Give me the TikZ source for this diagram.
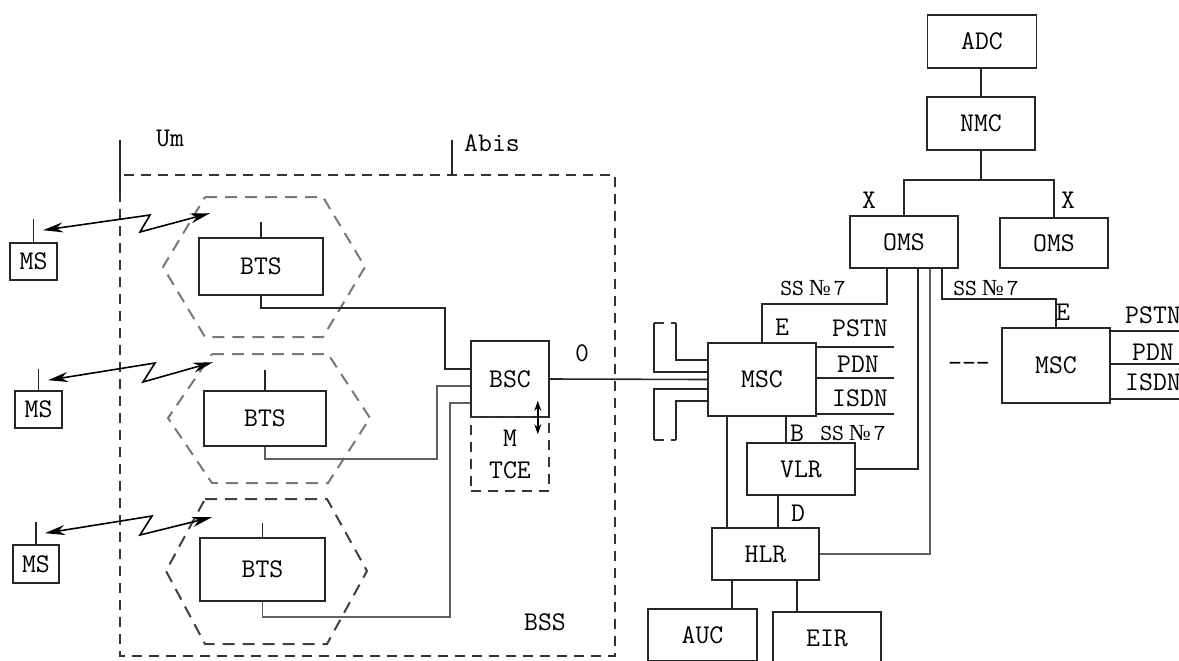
\documentclass[tikz,border=0pt]{standalone}
\usepackage{fontspec}
\newfontfamily\numfont{Liberation Serif}
\usetikzlibrary{arrows.meta,calc,positioning}
\definecolor{linegray}{RGB}{95,95,95}
\definecolor{cellgray}{RGB}{120,120,120}
\newcommand{\ssseven}{{\fontsize{11.5}{12}\selectfont SS\hspace{2.5pt}{\numfont №}\hspace{1.5pt}7}}

\begin{document}
\begin{tikzpicture}[x=0.5pt,y=-0.5pt,font=\ttfamily\fontsize{13.5}{15}\selectfont]

  \tikzstyle{every node}=[inner sep=0pt]
  \tikzstyle{box}=[draw=black!85, line width=0.8pt]
  \tikzstyle{link}=[draw=black!85, line width=0.8pt]
  \tikzstyle{glink}=[draw=linegray, line width=0.9pt]
  \tikzstyle{cell}=[draw=cellgray, line width=1pt, dash pattern=on 6pt off 4pt]
  \tikzstyle{frame}=[draw=black!80, line width=0.8pt, dash pattern=on 5pt off 3.5pt]
  \tikzstyle{radio}=[{Stealth[length=10pt,width=5pt]}-{Stealth[length=10pt,width=5pt]}, line width=0.8pt]

  \useasboundingbox (0,0) rectangle (1179,660);
  \clip (0,0) rectangle (1179,660);

  % BSS frame, interfaces
  \draw[frame] (120,175) rectangle (615,656);
  \draw[link] (120,140) -- (120,192);
  \draw[link] (452,140) -- (452,175);
  \node (um) at (170,138) {Um};
  \node (abis) at (492,143) {Abis};
  \node (bss) at (545,622) {BSS};

  % cells
  \draw[cell] (205,197) -- (323,197) -- (365,267) -- (323,337) -- (205,337) -- (163,267) -- cycle;
  \draw[cell] (212,354) -- (328,354) -- (370,418) -- (328,483) -- (212,483) -- (168,418) -- cycle;
  \draw[cell, draw=black!75] (205,499) -- (327,499) -- (367,571) -- (327,644) -- (205,644) -- (166,571) -- cycle;

  \node[box, minimum width=62pt, minimum height=28.5pt] (bts1) at (261,266.5) {BTS};
  \node[box, minimum width=61pt, minimum height=27.5pt] (bts2) at (265,418.5) {BTS};
  \node[box, minimum width=62.5pt, minimum height=31.5pt] (bts3) at (262.5,569.5) {BTS};
  \node[box, minimum width=23.5pt, minimum height=18.5pt] (ms1) at (33.5,261.5) {MS};
  \node[box, minimum width=23.5pt, minimum height=18.5pt] (ms2) at (38.5,409.5) {MS};
  \node[box, minimum width=23pt, minimum height=19pt] (ms3) at (36,564) {MS};

  \draw[link] (bts1.north) -- ++(0,-15);
  \draw[link] (bts2.north) -- ++(0,-20);
  \draw[link] (bts3.north) -- ++(0,-14);
  \draw[link] (ms1.north) -- ++(0,-23);
  \draw[link] (ms2.north) -- ++(0,-21);
  \draw[link] (ms3.north) -- ++(0,-22);

  \draw[radio] ([shift={(9.5,-12)}]ms1.north) -- (150,215) -- (140,232) -- ([shift={(-51,-24)}]bts1.north);
  \draw[radio] ([shift={(9.5,-10)}]ms2.north) -- (155,363) -- (143,382) -- ([shift={(-52,-28)}]bts2.north);
  \draw[radio] ([shift={(9,-11)}]ms3.north) -- (152,516) -- (140,535) -- ([shift={(-50.5,-20)}]bts3.north);

  % BSC
  \node[box, minimum width=39pt, minimum height=38pt] (bsc) at (510,379) {BSC};
  \node[frame, minimum width=39pt, minimum height=37pt, align=center] (mtce) at (510,454) {M\\[1pt]TCE};
  \draw[{Stealth[length=5pt,width=3.5pt]}-{Stealth[length=5pt,width=3.5pt]}, line width=0.8pt]
    ($(bsc.south east)+(-12,-17)$) -- ($(mtce.north east)+(-12,18)$);

  \draw[link] (bts1.south) |- (445,308) -- (445,369) -- (bsc.west |- 0,369);
  \draw[glink] (bts2.south) |- (437,459) -- (437,386) -- (bsc.west |- 0,386);
  \draw[glink] (bts3.south) |- (450,617) -- (450,403) -- (bsc.west |- 0,403);

  % core network
  \node[box, minimum width=54.5pt, minimum height=26.5pt] (adc) at (982,41.5) {ADC};
  \node[box, minimum width=54pt, minimum height=26.5pt] (nmc) at (981,123.5) {NMC};
  \node[box, minimum width=54pt, minimum height=26pt] (oms1) at (904,242) {OMS};
  \node[box, minimum width=54pt, minimum height=25pt] (oms2) at (1054,243) {OMS};
  \node[box, minimum width=54pt, minimum height=36.5pt] (msc1) at (762,379.5) {MSC};
  \node[box, minimum width=54pt, minimum height=37.5pt] (msc2) at (1056,365.5) {MSC};
  \node[box, minimum width=54pt, minimum height=26pt] (vlr) at (801,469) {VLR};
  \node[box, minimum width=53.5pt, minimum height=26pt] (hlr) at (765.5,554) {HLR};
  \node[box, minimum width=54.5pt, minimum height=26pt] (auc) at (702.5,635) {AUC};
  \node[box, minimum width=54pt, minimum height=26pt] (eir) at (827,638) {EIR};

  \draw[link] (bsc.east) -- (msc1.west);
  \node (ifo) at (582,353) {0};

  % trunks into MSC
  \draw[link] (msc1.west |- 0,360) -- (676,360) -- (676,323);
  \draw[link] (msc1.west |- 0,372) -- (654,372) -- (654,323);
  \draw[frame] (654,323) -- (676,323);
  \draw[link] (msc1.west |- 0,389) -- (654,389) -- (654,440);
  \draw[link] (msc1.west |- 0,401) -- (676,401) -- (676,440);
  \draw[frame] (654,440) -- (676,440);

  \draw[link] (msc1.east |- 0,347) -- (894,347);
  \draw[link] (msc1.east |- 0,378) -- (894,378);
  \draw[link] (msc1.east |- 0,414) -- (894,414);
  \node (pstn1) at (860,328) {PSTN};
  \node (pdn1) at (858,364) {PDN};
  \node (isdn1) at (860,398) {ISDN};

  \draw[link] (msc2.east |- 0,331) -- (1179,331);
  \draw[link] (msc2.east |- 0,364) -- (1179,364);
  \draw[link] (msc2.east |- 0,399) -- (1179,399);
  \node (pstn2) at (1153,315) {PSTN};
  \node (pdn2) at (1153,352) {PDN};
  \node (isdn2) at (1153,382) {ISDN};
  \node (more) at (969,367) {-{}-{}-};

  % management
  \draw[link] (nmc.north) -- (nmc.north |- adc.south);
  \draw[link] (nmc.south) -- (nmc.south |- 0,180);
  \draw[link] (oms1.north) |- (oms2.north |- 0,180) -- (oms2.north);
  \node (x1) at (869,200) {X};
  \node (x2) at (1068,200) {X};

  % signalling
  \draw[link] (msc1.north) |- (887,304) -- (887,0 |- oms1.south);
  \node (ss1) at (813,288) {\ssseven};
  \node (e1) at (782,327) {E};
  \draw[link] (942,0 |- oms1.south) -- (942,299) -| (msc2.north);
  \node (ss2) at (986,288) {\ssseven};
  \node (e2) at (1063,312) {E};

  \draw[link] (786,0 |- msc1.south) -- (786,0 |- vlr.north);
  \node (b) at (797,433) {B};
  \node (ss3) at (853,433) {\ssseven};
  \draw[link] (727,0 |- msc1.south) -- (727,0 |- hlr.north);
  \draw[link] (778,0 |- vlr.south) -- (778,0 |- hlr.north);
  \node (d) at (798,513) {D};
  \draw[link] (vlr.east) -| (918,0 |- oms1.south);
  \draw[glink] (hlr.east) -| (930,0 |- oms1.south);
  \draw[link] (732,0 |- hlr.south) -- (732,0 |- auc.north);
  \draw[link] (797,0 |- hlr.south) -- (797,0 |- eir.north);

\end{tikzpicture}
\end{document}
